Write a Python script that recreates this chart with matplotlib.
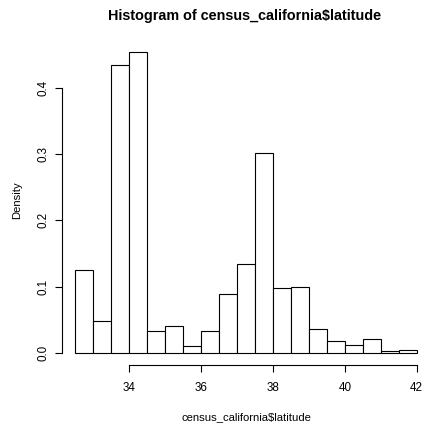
import matplotlib
matplotlib.use("Agg")
import matplotlib.pyplot as plt
import numpy as np

bin_edges = [32.5, 33.0, 33.5, 34.0, 34.5, 35.0, 35.5, 36.0, 36.5, 37.0,
             37.5, 38.0, 38.5, 39.0, 39.5, 40.0, 40.5, 41.0, 41.5, 42.0]
density = [0.126, 0.0485, 0.434, 0.454, 0.0335, 0.0415, 0.011, 0.0335, 0.0886,
           0.135, 0.302, 0.0976, 0.099, 0.037, 0.019, 0.012, 0.021, 0.003, 0.0045]
x_ticks = [34, 36, 38, 40, 42]
y_ticks = [0.0, 0.1, 0.2, 0.3, 0.4]
title = "Histogram of census_california$latitude"
xlabel = "census_california$latitude"
ylabel = "Density"

plt.rcParams['font.family'] = ['Liberation Sans', 'DejaVu Sans']
W, H = 426, 429
fig = plt.figure(figsize=(W / 100, H / 100), dpi=100)

# plot region in pixels
left_px, right_px = 61.8, 430.3
top_px, bottom_px = 39.6, 365.3
ax = fig.add_axes([left_px / W, 1 - bottom_px / H,
                   (right_px - left_px) / W, (bottom_px - top_px) / H])

edges = np.array(bin_edges)
widths = np.diff(edges)
ax.bar(edges[:-1], density, width=widths, align='edge',
       facecolor='white', edgecolor='black', linewidth=0.8)

xr = edges[-1] - edges[0]
ax.set_xlim(edges[0] - 0.04 * xr, edges[-1] + 0.04 * xr)
ymax = max(density)
ax.set_ylim(-0.04 * ymax, ymax * 1.04)

for s in ['top', 'right']:
    ax.spines[s].set_visible(False)
ax.spines['left'].set_bounds(y_ticks[0], y_ticks[-1])
ax.spines['bottom'].set_bounds(x_ticks[0], x_ticks[-1])
ax.spines['left'].set_linewidth(0.8)
ax.spines['bottom'].set_linewidth(0.8)

ax.set_xticks(x_ticks)
ax.set_xticklabels([str(t) for t in x_ticks])
ax.set_yticks(y_ticks)
ax.set_yticklabels([f"{t:.1f}" for t in y_ticks], rotation=90, va='center')
ax.tick_params(axis='both', length=5, width=0.8, labelsize=8.4)
ax.tick_params(axis='x', pad=7)
ax.tick_params(axis='y', pad=4)

fig.text(244.5 / W, 1 - 20 / H, title, ha='center', va='baseline',
         fontsize=10.4, fontweight='bold')
fig.text(246 / W, 1 - 416.7 / H, xlabel, ha='center', va='center', fontsize=8.1)
fig.text(16.7 / W, 1 - 200 / H, ylabel, ha='center', va='center', fontsize=8.1,
         rotation=90)

fig.savefig("out.png", dpi=100)
